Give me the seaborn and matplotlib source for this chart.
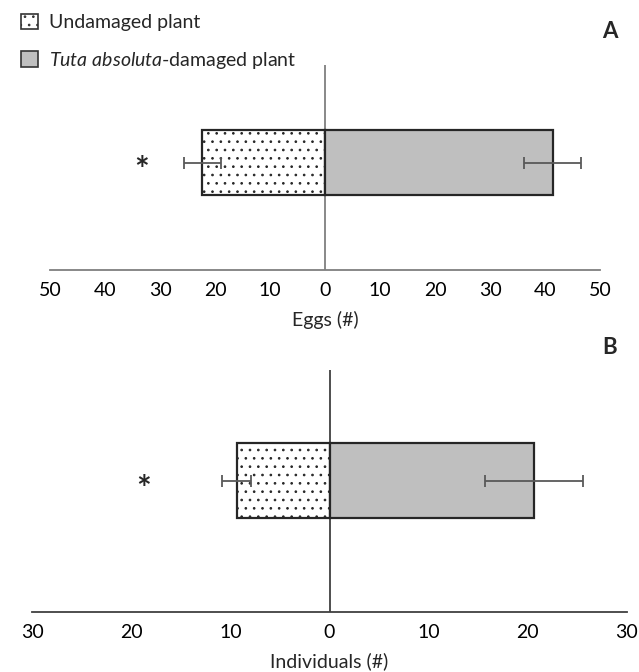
import matplotlib
matplotlib.use("Agg")
import matplotlib.pyplot as plt
import seaborn as sns
import pandas as pd
import numpy as np
from matplotlib.patches import Patch

# ---- data ----
treatments = ["Undamaged plant", "Tuta absoluta-damaged plant"]
eggs_mean = [22.3, 41.4]
eggs_err = [3.4, 5.2]
ind_mean = [9.35, 20.6]
ind_err = [1.45, 4.95]
eggs_ticks = [-50, -40, -30, -20, -10, 0, 10, 20, 30, 40, 50]
ind_ticks = [-30, -20, -10, 0, 10, 20, 30]
panel_labels = ["A", "B"]
x_labels = ["Eggs (#)", "Individuals (#)"]

sns.set_theme(style="white")
plt.rcParams["font.family"] = ["Lato", "DejaVu Sans"]
plt.rcParams["mathtext.fontset"] = "custom"
plt.rcParams["mathtext.it"] = "Lato:italic"
plt.rcParams["mathtext.rm"] = "Lato"
plt.rcParams["hatch.linewidth"] = 0.7
plt.rcParams["hatch.color"] = "#333333"

FS = 14
fig = plt.figure(figsize=(6.39, 6.72), dpi=100)
axA = fig.add_axes([50 / 639, 1 - 270 / 672, 550 / 639, 205 / 672])
axB = fig.add_axes([32 / 639, 1 - 612 / 672, 595 / 639, 242 / 672])

colors = {treatments[0]: "white", treatments[1]: "#BFBFBF"}


def draw(ax, means, errs, ticks, lim, xlabel, ylim, axcol, star_x):
    df = pd.DataFrame({
        "value": [-means[0], means[1]],
        "row": ["r", "r"],
        "treatment": treatments,
    })
    sns.barplot(data=df, x="value", y="row", hue="treatment", dodge=False,
                orient="h", palette=colors, width=0.4, edgecolor="#262626",
                linewidth=1.6, legend=False, ax=ax)
    for p in ax.patches:
        if min(p.get_x(), p.get_x() + p.get_width()) < 0:
            p.set_hatch("..")
    ax.errorbar(df["value"], [0, 0], xerr=errs, fmt="none", ecolor="#595959",
                elinewidth=1.3, capsize=4, capthick=1.3)
    ax.set_xlim(-lim, lim)
    ax.set_ylim(*ylim)
    ax.set_xticks(ticks)
    ax.set_xticklabels([str(abs(t)) for t in ticks], fontsize=FS)
    ax.tick_params(axis="x", length=0, pad=9, colors="black")
    ax.set_yticks([])
    ax.set_ylabel("")
    ax.set_xlabel(xlabel, fontsize=FS, labelpad=8)
    for s in ["top", "left", "right"]:
        ax.spines[s].set_visible(False)
    ax.spines["bottom"].set_color(axcol)
    ax.spines["bottom"].set_linewidth(1.3)
    ax.axvline(0, color=axcol, lw=1.3, zorder=0.5)
    ax.text(star_x, 0.05, "*", fontsize=25, ha="center", va="center",
            fontweight="bold")
    ax.set_facecolor("white")


draw(axA, eggs_mean, eggs_err, eggs_ticks, 50, x_labels[0],
     (0.66, -0.6), "#7f7f7f", -33.3)
draw(axB, ind_mean, ind_err, ind_ticks, 30, x_labels[1],
     (0.70, -0.59), "#404040", -18.7)

fig.text(610 / 639, 1 - 32 / 672, panel_labels[0], fontsize=16,
         fontweight="bold", ha="center", va="center")
fig.text(610 / 639, 1 - 347 / 672, panel_labels[1], fontsize=16,
         fontweight="bold", ha="center", va="center")

handles = [Patch(facecolor="white", edgecolor="#333333", hatch="..", lw=1.2),
           Patch(facecolor="#BFBFBF", edgecolor="#333333", lw=1.2)]
labels = ["Undamaged plant", r"$\it{Tuta\ absoluta}$-damaged plant"]
fig.legend(handles, labels, loc="upper left", bbox_to_anchor=(0.012, 1.0),
           frameon=False, fontsize=FS, handlelength=0.85, handleheight=0.85,
           handletextpad=0.55, labelspacing=0.95, borderaxespad=0.3)

fig.savefig("out.png", dpi=100, facecolor="white")
